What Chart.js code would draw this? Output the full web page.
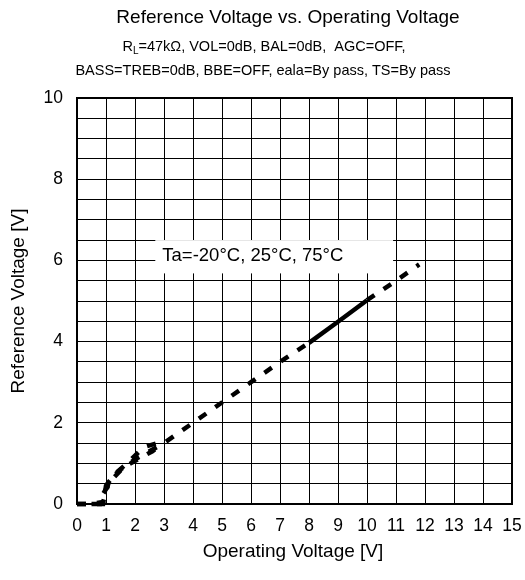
<!DOCTYPE html>
<html>
<head>
<meta charset="utf-8">
<script src="https://cdn.jsdelivr.net/npm/chart.js@4.4.1/dist/chart.umd.min.js"></script>
<style>
  html, body { margin: 0; padding: 0; background: #ffffff; }
  #wrap { width: 525px; height: 580px; position: relative; }
</style>
</head>
<body>
<div id="wrap"><canvas id="c" width="525" height="580"></canvas></div>
<script>
// ---- Data ----
const titleText = 'Reference Voltage vs. Operating Voltage';
const subLine2 = 'BASS=TREB=0dB, BBE=OFF, eala=By pass, TS=By pass';
const annotationText = 'Ta=-20°C, 25°C, 75°C';
const xAxisTitle = 'Operating Voltage [V]';
const yAxisTitle = 'Reference Voltage [V]';

const xTickLabels = ['0','1','2','3','4','5','6','7','8','9','10','11','12','13','14','15'];
const yTickLabels = ['0','2','4','6','8','10'];

// Ta = 25°C (full sweep)
const x25 = [0, 0.3, 0.6, 0.9, 1.0, 1.2, 1.5, 2.0, 2.5, 3.0, 4.0, 5.0, 6.0, 7.0, 8.0, 9.0, 10.0, 11.0, 11.8];
const y25 = [0, 0, 0, 0, 0.45, 0.65, 0.85, 1.1, 1.3, 1.5, 2.0, 2.5, 3.0, 3.5, 3.97, 4.49, 5.02, 5.5, 5.9];
// Ta = -20°C (low-voltage region, differs slightly)
const xM20 = [0, 0.5, 0.9, 1.1, 1.4, 1.8, 2.3, 3.0];
const yM20 = [0, 0, 0.05, 0.55, 0.8, 1.05, 1.4, 1.55];
// Ta = 75°C (low-voltage region, differs slightly)
const x75 = [0.5, 0.8, 0.9, 1.2, 1.6, 2.1, 2.6, 3.0];
const y75 = [0, 0, 0.25, 0.6, 0.9, 1.1, 1.3, 1.5];

// Solid (measured) range of the line, the rest is dashed
const solidFrom = 8, solidTo = 10;

function pts(xs, ys) { return xs.map((x, i) => ({ x: x, y: ys[i] })); }

const FONT = '"Liberation Sans", Arial, sans-serif';
const DASH = [9, 11];

function segDash(ctx) {
  const a = ctx.p0.parsed.x, b = ctx.p1.parsed.x;
  return (a >= solidFrom && b <= solidTo) ? [] : DASH;
}

const lineCommon = {
  borderColor: '#000000',
  backgroundColor: '#000000',
  borderWidth: 4.5,
  borderCapStyle: 'butt',
  pointRadius: 0,
  tension: 0,
  fill: false,
  clip: 6,
  segment: { borderDash: segDash }
};

const headerPlugin = {
  id: 'header',
  beforeDatasetsDraw(chart) {
    const ctx = chart.ctx;
    const xs = chart.scales.x, ys = chart.scales.y;
    // annotation box with white background (covers grid)
    const left = xs.getPixelForValue(2.7), right = xs.getPixelForValue(10.9);
    const top = ys.getPixelForValue(6.5), bottom = ys.getPixelForValue(5.68);
    ctx.save();
    ctx.fillStyle = '#ffffff';
    ctx.fillRect(left, top, right - left, bottom - top);
    ctx.fillStyle = '#000000';
    ctx.font = '18.5px ' + FONT;
    ctx.textAlign = 'left';
    ctx.textBaseline = 'middle';
    ctx.fillText(annotationText, left + 7, top + 16);
    ctx.restore();
  },
  afterDraw(chart) {
    const ctx = chart.ctx;
    const ca = chart.chartArea;
    ctx.save();
    ctx.fillStyle = '#000000';
    ctx.textBaseline = 'middle';
    // title
    ctx.font = '19px ' + FONT;
    ctx.textAlign = 'center';
    ctx.fillText(titleText, 288, 18);
    // subtitle line 1 with subscript
    const partA = 'R';
    const partSub = 'L';
    const partB = '=47kΩ, VOL=0dB, BAL=0dB,  AGC=OFF,';
    ctx.font = '14.5px ' + FONT;
    const wA = ctx.measureText(partA).width;
    const wB = ctx.measureText(partB).width;
    ctx.font = '10px ' + FONT;
    const wS = ctx.measureText(partSub).width;
    let x0 = 264 - (wA + wS + wB) / 2;
    ctx.textAlign = 'left';
    ctx.font = '14.5px ' + FONT;
    ctx.fillText(partA, x0, 47);
    ctx.font = '10px ' + FONT;
    ctx.fillText(partSub, x0 + wA, 51);
    ctx.font = '14.5px ' + FONT;
    ctx.fillText(partB, x0 + wA + wS, 47);
    // subtitle line 2
    ctx.textAlign = 'center';
    ctx.fillText(subLine2, 263, 71);
    // axis titles
    ctx.font = '19px ' + FONT;
    ctx.fillText(xAxisTitle, 293, 552);
    ctx.translate(19, (ca.top + ca.bottom) / 2);
    ctx.rotate(-Math.PI / 2);
    ctx.fillText(yAxisTitle, 0, 0);
    ctx.restore();
  }
};

new Chart(document.getElementById('c'), {
  type: 'line',
  data: {
    datasets: [
      Object.assign({ label: 'Ta=-20°C', data: pts(xM20, yM20) }, lineCommon),
      Object.assign({ label: 'Ta=25°C', data: pts(x25, y25) }, lineCommon),
      Object.assign({ label: 'Ta=75°C', data: pts(x75, y75) }, lineCommon)
    ]
  },
  options: {
    responsive: false,
    animation: false,
    devicePixelRatio: 1,
    layout: { padding: { top: 98, right: 13, left: 0, bottom: 0 } },
    plugins: {
      legend: { display: false },
      tooltip: { enabled: false },
      title: { display: false }
    },
    scales: {
      x: {
        type: 'linear',
        min: 0, max: 15,
        afterFit(s) { s.height = 76; s.paddingLeft = 0; s.paddingRight = 0; },
        ticks: {
          stepSize: 1,
          autoSkip: false,
          maxRotation: 0,
          padding: 12,
          color: '#000000',
          font: { family: FONT, size: 17.5 },
          callback: (v) => xTickLabels.includes(String(v)) ? String(v) : ''
        },
        grid: { color: '#000000', lineWidth: 1, drawTicks: false },
        border: { color: '#000000', width: 2 }
      },
      y: {
        type: 'linear',
        min: 0, max: 10,
        afterFit(s) { s.width = 77; s.paddingTop = 0; s.paddingBottom = 0; },
        ticks: {
          stepSize: 0.5,
          autoSkip: false,
          padding: 14,
          color: '#000000',
          font: { family: FONT, size: 17.5 },
          callback: (v) => yTickLabels.includes(String(v)) ? String(v) : ''
        },
        grid: { color: '#000000', lineWidth: 1, drawTicks: false },
        border: { color: '#000000', width: 2 }
      }
    }
  },
  plugins: [headerPlugin, {
    id: 'frame',
    afterDatasetsDraw(chart) {
      const ca = chart.chartArea, ctx = chart.ctx;
      ctx.save();
      ctx.strokeStyle = '#000000';
      ctx.lineWidth = 2;
      ctx.strokeRect(ca.left, ca.top, ca.right - ca.left, ca.bottom - ca.top);
      ctx.restore();
    }
  }]
});
</script>
</body>
</html>
